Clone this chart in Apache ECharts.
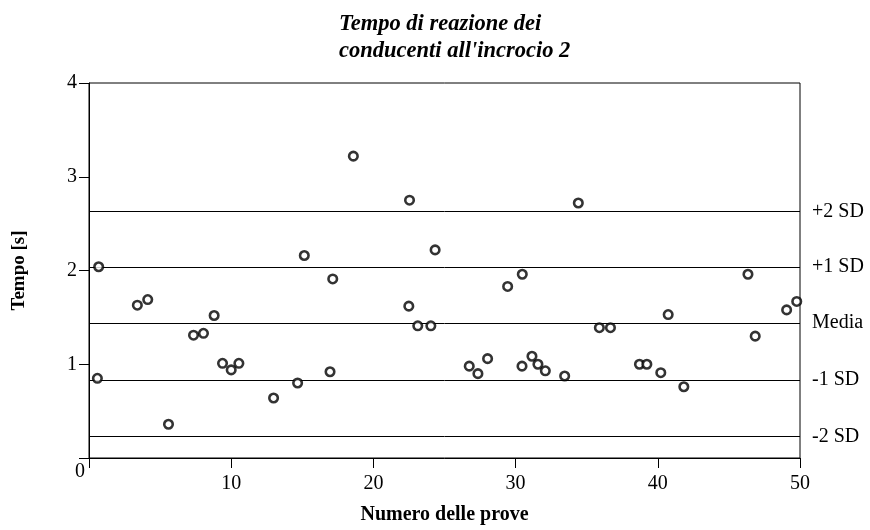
<!DOCTYPE html>
<html>
<head>
<meta charset="utf-8">
<script src="https://cdn.jsdelivr.net/npm/echarts@6/dist/echarts.min.js"></script>
<style>
  html, body { margin: 0; padding: 0; background: #fff; }
  #chart { width: 870px; height: 530px; }
</style>
</head>
<body>
<div id="chart"></div>
<script>
// numero della prova e tempo di reazione (s)
const trialX = [0.68, 0.59, 3.4, 4.13, 5.59, 7.35, 8.05, 8.8, 9.39, 10.0, 10.54, 12.98, 14.67, 15.14,
  16.95, 17.14, 18.59, 22.54, 22.49, 23.12, 24.04, 24.34, 26.74, 27.35, 28.03, 29.44, 30.47, 30.45,
  31.15, 31.57, 32.09, 33.45, 34.41, 35.89, 36.67, 38.71, 39.23, 40.21, 40.73, 41.83, 46.34, 46.85,
  49.06, 49.77];
const reactionTime = [2.04, 0.85, 1.63, 1.69, 0.36, 1.31, 1.33, 1.52, 1.01, 0.94, 1.01, 0.64, 0.80, 2.16,
  0.92, 1.91, 3.22, 2.75, 1.62, 1.41, 1.41, 2.22, 0.98, 0.90, 1.06, 1.83, 1.96, 0.98,
  1.085, 1.0, 0.93, 0.875, 2.72, 1.39, 1.39, 1.0, 1.0, 0.91, 1.53, 0.76, 1.96, 1.30,
  1.58, 1.67];

// linee di riferimento
const refNames = ['+2 SD', '+1 SD', 'Media', '-1 SD', '-2 SD'];
const refValues = [2.635, 2.035, 1.435, 0.835, 0.235];

const xTicks = [0, 10, 20, 30, 40, 50];
const yTicks = [0, 1, 2, 3, 4];

const chart = echarts.init(document.getElementById('chart'));
const serif = '"Liberation Serif", "Times New Roman", serif';

const points = trialX.map((x, i) => [x, reactionTime[i]]);

const option = {
  animation: false,
  backgroundColor: '#fff',
  title: {
    text: "Tempo di reazione dei\nconducenti all'incrocio 2",
    left: 334,
    top: 6,
    textStyle: {
      fontFamily: serif,
      fontSize: 22.5,
      fontWeight: 'bold',
      fontStyle: 'italic',
      color: '#000',
      lineHeight: 27
    }
  },
  grid: {
    left: 89,
    right: 70,
    top: 83,
    bottom: 66,
    show: true,
    borderColor: '#000',
    borderWidth: 1
  },
  xAxis: {
    type: 'value',
    min: xTicks[0],
    max: xTicks[xTicks.length - 1],
    interval: 10,
    name: 'Numero delle prove',
    nameLocation: 'middle',
    nameGap: 47,
    nameTextStyle: { fontFamily: serif, fontSize: 20, fontWeight: 'bold', color: '#000' },
    axisLine: { lineStyle: { color: '#000', width: 1 } },
    axisTick: { length: 10, lineStyle: { color: '#000' } },
    axisLabel: {
      fontFamily: serif, fontSize: 20, color: '#000', margin: 16,
      formatter: v => (v === 0 ? '' : String(v))
    },
    splitLine: { show: false }
  },
  yAxis: {
    type: 'value',
    min: yTicks[0],
    max: yTicks[yTicks.length - 1],
    interval: 1,
    name: 'Tempo [s]',
    nameLocation: 'middle',
    nameGap: 60,
    nameTextStyle: { fontFamily: serif, fontSize: 19, fontWeight: 'bold', color: '#000' },
    axisLine: { lineStyle: { color: '#000', width: 1 } },
    axisTick: { length: 10, lineStyle: { color: '#000' } },
    axisLabel: {
      fontFamily: serif, fontSize: 20, color: '#000', margin: 12,
      formatter: v => (v === 0 ? '' : String(v))
    },
    splitLine: { show: false }
  },
  series: [{
    type: 'scatter',
    data: points,
    symbol: 'circle',
    symbolSize: 8.5,
    itemStyle: { color: '#fff', borderColor: '#000', borderWidth: 2.6 },
    markLine: {
      silent: true,
      symbol: 'none',
      lineStyle: { color: '#000', width: 1, type: 'solid' },
      label: {
        position: 'end',
        distance: 12,
        formatter: '{b}',
        fontFamily: serif,
        fontSize: 20,
        color: '#000',
        padding: [6, 0, 0, 0]
      },
      data: refValues.map((v, i) => ({ name: refNames[i], yAxis: v }))
    },
    z: 5
  }]
};

chart.setOption(option);

// etichetta "0" all'origine
const origin = chart.convertToPixel({ gridIndex: 0 }, [0, 0]);
chart.setOption({
  graphic: [{
    type: 'text',
    x: origin[0] - 4,
    y: origin[1] + 14,
    style: {
      text: '0', fontFamily: serif, fontSize: 20, fill: '#000',
      align: 'right', verticalAlign: 'middle'
    }
  }]
});
</script>
</body>
</html>
